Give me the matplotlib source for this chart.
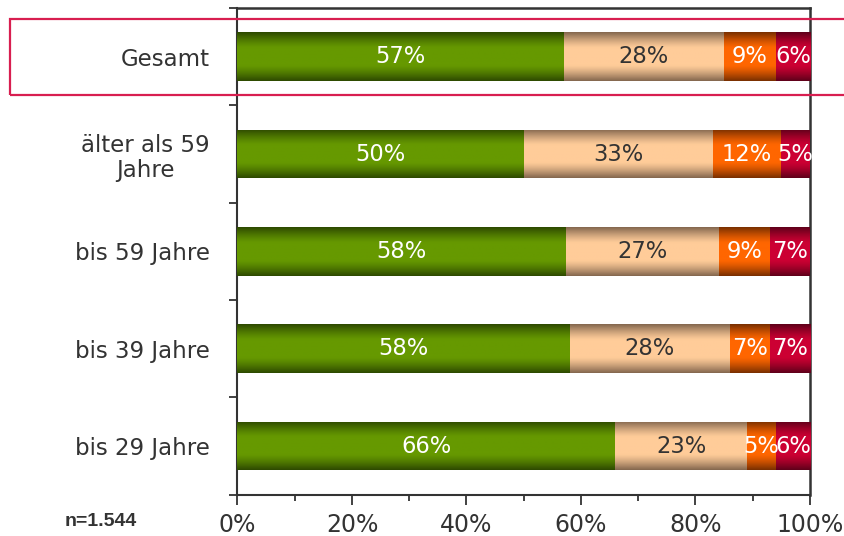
import numpy as np
import matplotlib
matplotlib.use("Agg")
import matplotlib.pyplot as plt
from matplotlib.patches import Rectangle
from matplotlib.colors import to_rgb

categories = ["Gesamt", "älter als 59\nJahre", "bis 59 Jahre", "bis 39 Jahre", "bis 29 Jahre"]
seg1 = [57, 50, 58, 58, 66]
seg2 = [28, 33, 27, 28, 23]
seg3 = [9, 12, 9, 7, 5]
seg4 = [6, 5, 7, 7, 6]
xticks = [0, 20, 40, 60, 80, 100]
sample_note = "n=1.544"

mid_colors = ["#669900", "#ffcc99", "#ff6600", "#cc0033"]
edge_colors = ["#2e4a00", "#85684f", "#7a3000", "#60001a"]
label_colors = ["white", "#333333", "white", "white"]

fig = plt.figure(figsize=(8.45, 5.36), dpi=100)
ax = fig.add_axes([237.5 / 845, 1 - 494.7 / 536, (810 - 237.5) / 845, (494.7 - 8) / 536])

raw = np.array([seg1, seg2, seg3, seg4], dtype=float)
shares = raw / raw.sum(axis=0) * 100
y = np.arange(len(categories))
left = np.zeros(len(categories))

def gradient(mid, edge, n=64):
    m = np.array(to_rgb(mid)); e = np.array(to_rgb(edge))
    t = np.linspace(0, 1, n)
    d = np.abs(t - 0.5) * 2
    f = np.clip((d - 0.35) / 0.65, 0, 1) ** 1.3
    cols = m[None, :] * (1 - f[:, None]) + e[None, :] * f[:, None]
    return cols[:, None, :]

for i in range(4):
    bars = ax.barh(y, shares[i], left=left, height=0.5, color=mid_colors[i], linewidth=0, zorder=2)
    img = gradient(mid_colors[i], edge_colors[i])
    for b, val, lft, w in zip(bars, raw[i], left, shares[i]):
        x0, y0 = b.get_x(), b.get_y()
        bw, bh = b.get_width(), b.get_height()
        im = ax.imshow(img, extent=[x0, x0 + bw, y0 + bh, y0], aspect="auto",
                       interpolation="bilinear", zorder=3)
        im.set_clip_path(b)
        ax.text(lft + w / 2, b.get_y() + bh / 2, f"{int(val)}%", ha="center", va="center",
                fontsize=16.3, color=label_colors[i], zorder=4, family="DejaVu Sans")
    left = left + shares[i]

ax.set_xlim(0, 100)
ax.set_ylim(len(categories) - 0.5, -0.5)

ax.set_xticks(xticks)
ax.set_xticklabels([f"{t}%" for t in xticks], fontsize=17, color="#333333")
ax.set_xticks(np.arange(10, 100, 20), minor=True)
ax.tick_params(axis="x", which="major", direction="out", length=7, width=1.3, color="#333333", pad=6)
ax.tick_params(axis="x", which="minor", direction="out", length=4, width=1.3, color="#333333")

ax.set_yticks(np.arange(-0.5, len(categories), 1.0))
ax.set_yticklabels([])
ax.set_yticks(y, minor=True)
ax.set_yticklabels(categories, minor=True, fontsize=16.5, color="#333333", multialignment="center",
                   linespacing=1.15)
ax.tick_params(axis="y", which="major", direction="out", length=6, width=1.3, color="#333333")
ax.tick_params(axis="y", which="minor", length=0, pad=20)

for s in ax.spines.values():
    s.set_color("#333333")
    s.set_linewidth(1.5)
ax.spines["top"].set_linewidth(1.8)
ax.spines["right"].set_linewidth(1.8)

fig.text(101 / 845, 1 - 521 / 536, sample_note, ha="center", va="center", fontsize=14,
         fontweight="bold", color="#333333", family=["Liberation Sans Narrow", "Liberation Sans"])

rect = Rectangle((10 / 845, 1 - 95 / 536), 850 / 845, (95 - 19) / 536, transform=fig.transFigure,
                 fill=False, edgecolor="#d81e50", linewidth=1.6, zorder=10)
fig.patches.append(rect)

fig.savefig("out.png", dpi=100)
